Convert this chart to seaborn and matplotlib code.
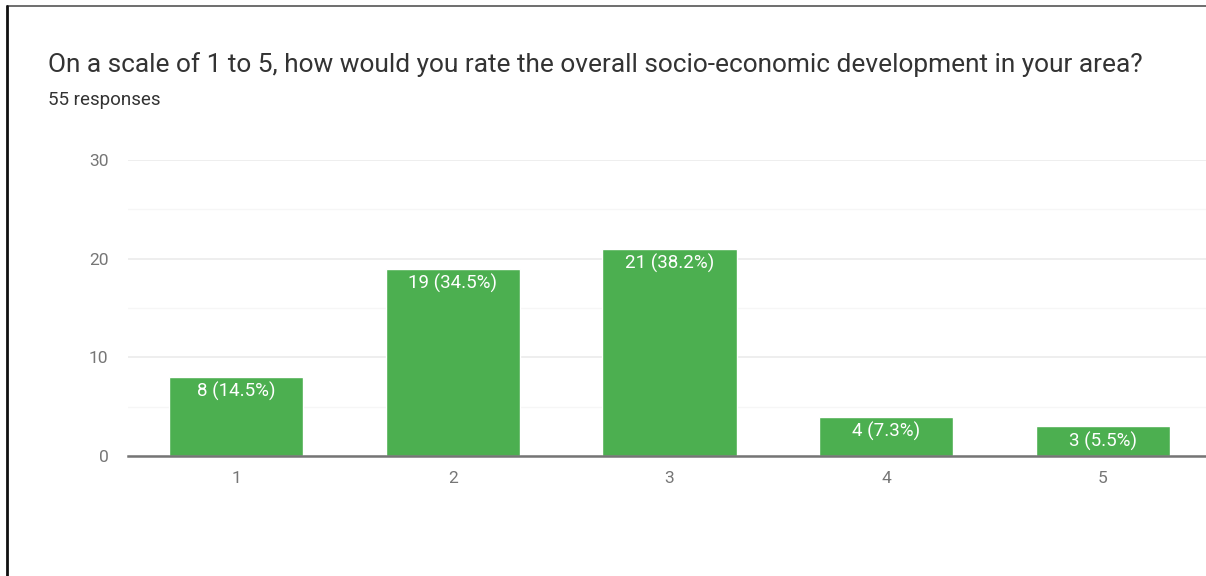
import matplotlib
matplotlib.use("Agg")
import matplotlib.pyplot as plt
from matplotlib.lines import Line2D
import seaborn as sns
import pandas as pd

categories = ["1", "2", "3", "4", "5"]
counts = [8, 19, 21, 4, 3]
percents = [14.5, 34.5, 38.2, 7.3, 5.5]
y_ticks = [0, 10, 20, 30]

title = "On a scale of 1 to 5, how would you rate the overall socio-economic development in your area?"
subtitle = "55 responses"

sns.set_theme(style="white")
plt.rcParams["font.family"] = ["Roboto", "DejaVu Sans"]

W, H = 1206, 576
fig = plt.figure(figsize=(W / 100, H / 100), dpi=100)
fig.patch.set_facecolor("white")

# axes box in pixel coordinates
left, right, top, bottom = 128, 1211, 160, 456
ax = fig.add_axes([left / W, 1 - bottom / H, (right - left) / W, (bottom - top) / H])

df = pd.DataFrame({"rating": categories, "count": counts})
sns.barplot(data=df, x="rating", y="count", color="#4caf50", saturation=1,
            width=0.62, ax=ax, zorder=3)

ax.set_xlim(-0.5, len(categories) - 0.5)
ax.set_ylim(0, 30)
ax.set_yticks(y_ticks)
ax.set_yticks([5, 15, 25], minor=True)
ax.grid(axis="y", which="major", color="#ebebeb", linewidth=1.2, zorder=0)
ax.grid(axis="y", which="minor", color="#f6f6f6", linewidth=1.0, zorder=0)
ax.set_xlabel("")
ax.set_ylabel("")
for s in ["top", "right", "left"]:
    ax.spines[s].set_visible(False)
ax.spines["bottom"].set_color("#757575")
ax.spines["bottom"].set_linewidth(1.8)
ax.spines["bottom"].set_zorder(4)
ax.tick_params(axis="both", which="both", length=0, labelsize=12.5, labelcolor="#767676")
ax.tick_params(axis="y", pad=14)
ax.tick_params(axis="x", pad=11)

for i, (c, p) in enumerate(zip(counts, percents)):
    ax.annotate(f"{c} ({p}%)", xy=(i, c), xytext=(0, -10.5), textcoords="offset points",
                ha="center", va="center", color="white", fontsize=13.5, zorder=5)

fig.text(48 / W, 1 - 65 / H, title, ha="left", va="center", fontsize=18.9, color="#333333")
fig.text(48 / W, 1 - 100 / H, subtitle, ha="left", va="center", fontsize=13.5, color="#333333")

# card border
fig.add_artist(Line2D([7 / W, 1], [1 - 6 / H, 1 - 6 / H], transform=fig.transFigure,
                      color="#555555", linewidth=1.2))
fig.add_artist(Line2D([7 / W, 7 / W], [0, 1 - 6 / H], transform=fig.transFigure,
                      color="#111111", linewidth=2))

fig.savefig("out.png", dpi=100)
